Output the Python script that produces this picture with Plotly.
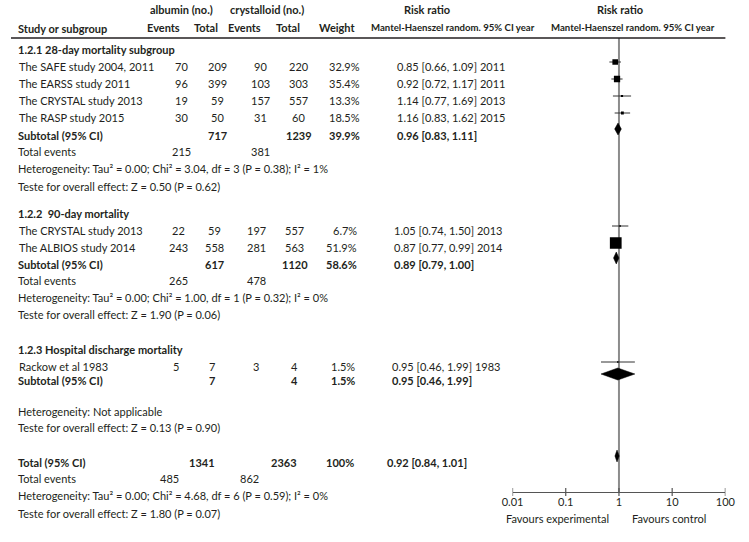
import plotly.graph_objects as go

# ---------------- data ----------------
studies = ["The SAFE study 2004, 2011", "The EARSS study 2011", "The CRYSTAL study 2013",
           "The RASP study 2015", "The CRYSTAL study 2013", "The ALBIOS study 2014",
           "Rackow et al 1983"]
study_group = [0, 0, 0, 0, 1, 1, 2]
alb_events = [70, 96, 19, 30, 22, 243, 5]
alb_total = [209, 399, 59, 50, 59, 558, 7]
cry_events = [90, 103, 157, 31, 197, 281, 3]
cry_total = [220, 303, 557, 60, 557, 563, 4]
weights = [32.9, 35.4, 13.3, 18.5, 6.7, 51.9, 1.5]
rr = [0.85, 0.92, 1.14, 1.16, 1.05, 0.87, 0.95]
rr_lo = [0.66, 0.72, 0.77, 0.83, 0.74, 0.77, 0.46]
rr_hi = [1.09, 1.17, 1.69, 1.62, 1.50, 0.99, 1.99]
years = [2011, 2011, 2013, 2015, 2013, 2014, 1983]

groups = ["1.2.1 28-day mortality subgroup", "1.2.2  90-day mortality",
          "1.2.3 Hospital discharge mortality"]
sub_alb_total = [717, 617, 7]
sub_cry_total = [1239, 1120, 4]
sub_weight = [39.9, 58.6, 1.5]
sub_rr = [0.96, 0.89, 0.95]
sub_lo = [0.83, 0.79, 0.46]
sub_hi = [1.11, 1.00, 1.99]
sub_alb_events = [215, 265, None]
sub_cry_events = [381, 478, None]
sub_het = ["Heterogeneity: Tau² = 0.00; Chi² = 3.04, df = 3 (P = 0.38); I² = 1%",
           "Heterogeneity: Tau² = 0.00; Chi² = 1.00, df = 1 (P = 0.32); I² = 0%",
           "Heterogeneity: Not applicable"]
sub_effect = ["Teste for overall effect: Z = 0.50 (P = 0.62)",
              "Teste for overall effect: Z = 1.90 (P = 0.06)",
              "Teste for overall effect: Z = 0.13 (P = 0.90)"]

total_alb_total = 1341
total_cry_total = 2363
total_weight = 100
total_rr, total_lo, total_hi = 0.92, 0.84, 1.01
total_alb_events = 485
total_cry_events = 862
total_het = "Heterogeneity: Tau² = 0.00; Chi² = 4.68, df = 6 (P = 0.59); I² = 0%"
total_effect = "Teste for overall effect: Z = 1.80 (P = 0.07)"

tick_vals = [0.01, 0.1, 1, 10, 100]
tick_text = ["0.01", "0.1", "1", "10", "100"]

# ---------------- layout helpers ----------------
W, H = 749, 542
FONT = "Lato"
FS = 11
TXT = "#231f20"

# row y positions (pixels) per section
title_y = [49, 213, 349]
study_y = [66, 83, 100, 117, 230, 247, 366]
subtotal_y = [135, 264, 380]
events_y = [151, 280, None]
het_y = [168, 297, 411]
effect_y = [186, 314, 427]
tot_y, tot_events_y, tot_het_y, tot_effect_y = 462, 478, 495, 513
# column x positions per section (0,1,2 = groups, 3 = total)
cx_ev = [175, 172, 170, 163]
cx_tot = [212, 209, 207, 196]
cx_cev = [257, 253, 252, 245]
cx_ctot = [296, 292, 292, 281]
cx_wt = [361, 358, 356, 355]
cx_rr = [395, 392, 390, 385]
MARK_DY = -4

ann = []


def txt(x, y, s, bold=False, anchor="left", size=FS):
    if bold:
        s = "<b>" + s + "</b>"
    ann.append(dict(x=x / W, y=y, xref="paper", yref="y", text=s, showarrow=False,
                    xanchor=anchor, yanchor="middle",
                    font=dict(family=FONT, size=size, color=TXT)))


# headers
txt(175, 9, "albumin (no.)", True, "center")
txt(263, 9, "crystalloid (no.)", True, "center")
txt(428, 9, "Risk ratio", True, "center")
txt(627, 9, "Risk ratio", True, "center")
txt(5, 28, "Study or subgroup", True)
txt(157, 27, "Events", True, "center")
txt(201, 27, "Total", True, "center")
txt(240, 27, "Events", True, "center")
txt(285, 27, "Total", True, "center")
txt(335, 27, "Weight", True, "center")
txt(455, 27, "Mantel-Haenszel random. 95% CI year", True, "center", 9.6)
txt(640, 27, "Mantel-Haenszel random. 95% CI year", True, "center", 9.6)

for g in range(3):
    txt(5, title_y[g], groups[g], True)
    txt(5, subtotal_y[g], "Subtotal (95% CI)", True)
    txt(cx_tot[g], subtotal_y[g], str(sub_alb_total[g]), True, "center")
    txt(cx_ctot[g], subtotal_y[g], str(sub_cry_total[g]), True, "center")
    txt(cx_wt[g], subtotal_y[g], f"{sub_weight[g]:.1f}%", True, "right")
    txt(cx_rr[g], subtotal_y[g], f"{sub_rr[g]:.2f} [{sub_lo[g]:.2f}, {sub_hi[g]:.2f}]", True)
    if sub_alb_events[g] is not None:
        txt(5, events_y[g], "Total events")
        txt(cx_ev[g], events_y[g], str(sub_alb_events[g]), False, "center")
        txt(cx_cev[g], events_y[g], str(sub_cry_events[g]), False, "center")
    txt(5, het_y[g], sub_het[g])
    txt(5, effect_y[g], sub_effect[g])

for i, name in enumerate(studies):
    g = study_group[i]
    y = study_y[i]
    txt(6, y, name)
    txt(cx_ev[g], y, str(alb_events[i]), False, "center")
    txt(cx_tot[g], y, str(alb_total[i]), False, "center")
    txt(cx_cev[g], y, str(cry_events[i]), False, "center")
    txt(cx_ctot[g], y, str(cry_total[i]), False, "center")
    txt(cx_wt[g], y, f"{weights[i]:.1f}%", False, "right")
    txt(cx_rr[g], y, f"{rr[i]:.2f} [{rr_lo[i]:.2f}, {rr_hi[i]:.2f}] {years[i]}")

txt(5, tot_y, "Total (95% CI)", True)
txt(cx_tot[3], tot_y, str(total_alb_total), True, "center")
txt(cx_ctot[3], tot_y, str(total_cry_total), True, "center")
txt(cx_wt[3], tot_y, f"{total_weight}%", True, "right")
txt(cx_rr[3], tot_y, f"{total_rr:.2f} [{total_lo:.2f}, {total_hi:.2f}]", True)
txt(5, tot_events_y, "Total events")
txt(cx_ev[3], tot_events_y, str(total_alb_events), False, "center")
txt(cx_cev[3], tot_events_y, str(total_cry_events), False, "center")
txt(5, tot_het_y, total_het)
txt(5, tot_effect_y, total_effect)

txt(562, 518, "Favours experimental", False, "center")
txt(677, 518, "Favours control", False, "center")

# ---------------- traces ----------------
AXIS_Y = 492
fig = go.Figure()

# line of no effect
fig.add_trace(go.Scatter(x=[1, 1], y=[38, AXIS_Y], mode="lines",
                         line=dict(color="#8c8c8c", width=2), hoverinfo="skip"))

# CI whiskers
cx, cy = [], []
for i in range(len(studies)):
    yy = study_y[i] + MARK_DY
    cx += [rr_lo[i], rr_hi[i], None]
    cy += [yy, yy, None]
fig.add_trace(go.Scatter(x=cx, y=cy, mode="lines", line=dict(color="#333", width=1),
                         hoverinfo="skip"))

# squares sized by weight
sizes = [1.5 + 0.0038 * w * w for w in weights]
fig.add_trace(go.Scatter(x=rr, y=[y + MARK_DY for y in study_y], mode="markers",
                         marker=dict(symbol="square", size=sizes, color="#000000",
                                     opacity=1, line=dict(width=0)),
                         opacity=1, hoverinfo="skip"))

# diamonds
DH = 6
dx, dy = [], []
for est, lo, hi, yy in list(zip(sub_rr, sub_lo, sub_hi, subtotal_y)) + [(total_rr, total_lo, total_hi, tot_y)]:
    yc = yy - 6
    dx += [lo, est, hi, est, lo, None]
    dy += [yc, yc - DH, yc, yc + DH, yc, None]
fig.add_trace(go.Scatter(x=dx, y=dy, mode="lines", fill="toself", fillcolor="#000000",
                         line=dict(color="#000000", width=0.5), hoverinfo="skip"))

# axis ticks (crossing the axis line)
tx, ty = [], []
for v in tick_vals:
    tx += [v, v, None]
    ty += [AXIS_Y - 4, AXIS_Y + 4, None]
fig.add_trace(go.Scatter(x=tx, y=ty, mode="lines", line=dict(color="#555", width=1.2),
                         hoverinfo="skip", cliponaxis=False))

fig.update_layout(
    width=W, height=H, margin=dict(l=0, r=0, t=0, b=0),
    paper_bgcolor="white", plot_bgcolor="white", showlegend=False,
    annotations=ann,
    xaxis=dict(type="log", range=[-2, 2], domain=[516 / W, 735 / W], anchor="free",
               position=1 - AXIS_Y / H, showline=True, linecolor="#555", linewidth=1.2,
               ticks="", ticklen=0,
               tickvals=tick_vals, ticktext=tick_text, showgrid=False, zeroline=False,
               tickfont=dict(family=FONT, size=FS, color=TXT)),
    yaxis=dict(range=[H, 0], domain=[0, 1], visible=False, showgrid=False, zeroline=False),
    shapes=[dict(type="line", xref="paper", yref="y", x0=0, x1=735 / W, y0=38, y1=38,
                 line=dict(color=TXT, width=1.5))],
)

fig.write_html("out.html")
